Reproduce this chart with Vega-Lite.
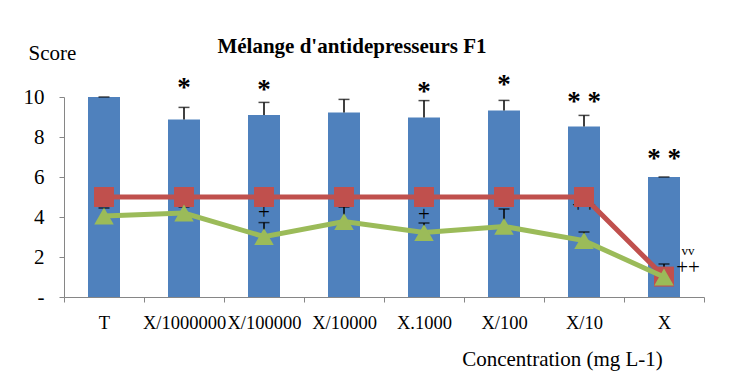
{
  "$schema": "https://vega.github.io/schema/vega-lite/v6.json",
  "width": 640,
  "height": 200,
  "autosize": {"type": "none"},
  "padding": {"left": 64, "top": 97, "right": 28, "bottom": 79},
  "background": "white",
  "config": {
    "view": {"stroke": null},
    "font": "Liberation Serif",
    "text": {"font": "Liberation Serif"},
    "axisX": {
      "labelAngle": 0,
      "labelFont": "Liberation Serif",
      "labelFontSize": 18.5,
      "labelColor": "black",
      "labelPadding": 11,
      "labelOverlap": false,
      "tickBand": "extent",
      "tickSize": 5,
      "tickColor": "#868686",
      "domainColor": "#868686",
      "titleFont": "Liberation Serif",
      "titleFontSize": 21,
      "titleFontWeight": "normal",
      "titleColor": "black",
      "titleAlign": "center",
      "titleBaseline": "middle",
      "titleX": 498,
      "titleY": 62
    },
    "axisY": {
      "labelOverlap": false,
      "grid": false,
      "labelFont": "Liberation Serif",
      "labelFontSize": 21,
      "labelColor": "black",
      "labelPadding": 15,
      "tickSize": 5,
      "tickColor": "#868686",
      "domainColor": "#868686",
      "titleFont": "Liberation Serif",
      "titleFontSize": 21,
      "titleFontWeight": "normal",
      "titleColor": "black",
      "titleAngle": 0,
      "titleAlign": "center",
      "titleBaseline": "middle",
      "titleX": -12,
      "titleY": -44
    }
  },
  "title": {
    "text": "Mélange d'antidepresseurs F1",
    "font": "Liberation Serif",
    "fontSize": 21,
    "fontWeight": "bold",
    "color": "black",
    "anchor": "middle",
    "dx": -32,
    "offset": -15
  },
  "datasets": {
    "main": [
      {"conc": "T", "score": 10.0, "scoreHigh": 10.0, "red": 5, "green": 4.05, "greenHigh": 4.45},
      {"conc": "X/1000000", "score": 8.88, "scoreHigh": 9.48, "red": 5, "green": 4.2, "greenHigh": 4.5},
      {"conc": "X/100000", "score": 9.1, "scoreHigh": 9.73, "red": 5, "green": 3.02, "greenHigh": 3.72},
      {"conc": "X/10000", "score": 9.22, "scoreHigh": 9.88, "red": 5, "green": 3.77, "greenHigh": 4.5},
      {"conc": "X.1000", "score": 8.98, "scoreHigh": 9.82, "red": 5, "green": 3.22, "greenHigh": 3.7},
      {"conc": "X/100", "score": 9.33, "scoreHigh": 9.83, "red": 5, "green": 3.53, "greenHigh": 4.4},
      {"conc": "X/10", "score": 8.53, "scoreHigh": 9.08, "red": 5, "green": 2.82, "greenHigh": 3.25},
      {"conc": "X", "score": 6.0, "scoreHigh": 6.0, "red": 1.02, "green": 1.0, "greenHigh": 1.65}
    ],
    "stars": [
      {"conc": "X/1000000", "y": 10.45, "label": "*"},
      {"conc": "X/100000", "y": 10.35, "label": "*"},
      {"conc": "X.1000", "y": 10.25, "label": "*"},
      {"conc": "X/100", "y": 10.6, "label": "*"},
      {"conc": "X/10", "y": 9.75, "label": "* *"},
      {"conc": "X", "y": 6.9, "label": "* *"}
    ],
    "plus": [
      {"conc": "X/100000", "y": 4.2, "label": "+"},
      {"conc": "X.1000", "y": 4.1, "label": "+"},
      {"conc": "X/10", "y": 4.55, "label": "++"}
    ],
    "side": [
      {"conc": "X", "y": 2.3, "label": "vv", "size": "small"},
      {"conc": "X", "y": 1.45, "label": "++", "size": "big"}
    ]
  },
  "layer": [
    {
      "data": {"name": "main"},
      "mark": {"type": "bar", "color": "#4F81BD", "width": {"band": 0.4}},
      "encoding": {
        "x": {"field": "conc", "type": "nominal", "sort": null, "scale": {"paddingInner": 0, "paddingOuter": 0}, "axis": {"title": "Concentration (mg L-1)"}},
        "y": {"field": "score", "type": "quantitative", "scale": {"domain": [0, 10], "nice": false}, "axis": {"title": "Score", "values": [0, 2, 4, 6, 8, 10], "labelExpr": "datum.value == 0 ? '-' : datum.label"}}
      }
    },
    {
      "data": {"name": "main"},
      "mark": {"type": "rule", "color": "black", "strokeWidth": 1.5},
      "encoding": {
        "x": {"field": "conc", "type": "nominal", "sort": null, "axis": {"title": "Concentration (mg L-1)"}},
        "y": {"field": "score", "type": "quantitative", "axis": {"title": "Score", "values": [0, 2, 4, 6, 8, 10], "labelExpr": "datum.value == 0 ? '-' : datum.label"}},
        "y2": {"field": "scoreHigh"}
      }
    },
    {
      "data": {"name": "main"},
      "mark": {"type": "tick", "color": "black", "size": 11, "thickness": 1.5},
      "encoding": {
        "x": {"field": "conc", "type": "nominal", "sort": null, "axis": {"title": "Concentration (mg L-1)"}},
        "y": {"field": "scoreHigh", "type": "quantitative", "axis": {"title": "Score", "values": [0, 2, 4, 6, 8, 10], "labelExpr": "datum.value == 0 ? '-' : datum.label"}}
      }
    },
    {
      "data": {"name": "main"},
      "mark": {"type": "rule", "color": "black", "strokeWidth": 1.5},
      "encoding": {
        "x": {"field": "conc", "type": "nominal", "sort": null, "axis": {"title": "Concentration (mg L-1)"}},
        "y": {"field": "green", "type": "quantitative", "axis": {"title": "Score", "values": [0, 2, 4, 6, 8, 10], "labelExpr": "datum.value == 0 ? '-' : datum.label"}},
        "y2": {"field": "greenHigh"}
      }
    },
    {
      "data": {"name": "main"},
      "mark": {"type": "tick", "color": "black", "size": 11, "thickness": 1.5},
      "encoding": {
        "x": {"field": "conc", "type": "nominal", "sort": null, "axis": {"title": "Concentration (mg L-1)"}},
        "y": {"field": "greenHigh", "type": "quantitative", "axis": {"title": "Score", "values": [0, 2, 4, 6, 8, 10], "labelExpr": "datum.value == 0 ? '-' : datum.label"}}
      }
    },
    {
      "data": {"name": "stars"},
      "mark": {"type": "text", "font": "Liberation Serif", "fontSize": 27, "fontWeight": "bold", "color": "black", "baseline": "middle"},
      "encoding": {
        "x": {"field": "conc", "type": "nominal", "sort": null, "axis": {"title": "Concentration (mg L-1)"}},
        "y": {"field": "y", "type": "quantitative", "axis": {"title": "Score", "values": [0, 2, 4, 6, 8, 10], "labelExpr": "datum.value == 0 ? '-' : datum.label"}},
        "text": {"field": "label"}
      }
    },
    {
      "data": {"name": "plus"},
      "mark": {"type": "text", "font": "Liberation Serif", "fontSize": 21, "color": "black", "baseline": "middle"},
      "encoding": {
        "x": {"field": "conc", "type": "nominal", "sort": null, "axis": {"title": "Concentration (mg L-1)"}},
        "y": {"field": "y", "type": "quantitative", "axis": {"title": "Score", "values": [0, 2, 4, 6, 8, 10], "labelExpr": "datum.value == 0 ? '-' : datum.label"}},
        "text": {"field": "label"}
      }
    },
    {
      "data": {"name": "side"},
      "transform": [{"filter": "datum.size == 'big'"}],
      "mark": {"type": "text", "font": "Liberation Serif", "fontSize": 21, "color": "black", "baseline": "middle", "dx": 24},
      "encoding": {
        "x": {"field": "conc", "type": "nominal", "sort": null, "axis": {"title": "Concentration (mg L-1)"}},
        "y": {"field": "y", "type": "quantitative", "axis": {"title": "Score", "values": [0, 2, 4, 6, 8, 10], "labelExpr": "datum.value == 0 ? '-' : datum.label"}},
        "text": {"field": "label"}
      }
    },
    {
      "data": {"name": "side"},
      "transform": [{"filter": "datum.size == 'small'"}],
      "mark": {"type": "text", "font": "Liberation Serif", "fontSize": 13, "color": "black", "baseline": "middle", "dx": 24},
      "encoding": {
        "x": {"field": "conc", "type": "nominal", "sort": null, "axis": {"title": "Concentration (mg L-1)"}},
        "y": {"field": "y", "type": "quantitative", "axis": {"title": "Score", "values": [0, 2, 4, 6, 8, 10], "labelExpr": "datum.value == 0 ? '-' : datum.label"}},
        "text": {"field": "label"}
      }
    },
    {
      "data": {"name": "main"},
      "mark": {"type": "line", "color": "#C0504D", "strokeWidth": 5, "point": {"shape": "square", "size": 400, "color": "#C0504D", "filled": true, "opacity": 1}},
      "encoding": {
        "x": {"field": "conc", "type": "nominal", "sort": null, "axis": {"title": "Concentration (mg L-1)"}},
        "y": {"field": "red", "type": "quantitative", "axis": {"title": "Score", "values": [0, 2, 4, 6, 8, 10], "labelExpr": "datum.value == 0 ? '-' : datum.label"}}
      }
    },
    {
      "data": {"name": "main"},
      "mark": {"type": "line", "color": "#9BBB59", "strokeWidth": 5, "point": {"shape": "triangle-up", "size": 380, "color": "#9BBB59", "filled": true, "opacity": 1}},
      "encoding": {
        "x": {"field": "conc", "type": "nominal", "sort": null, "axis": {"title": "Concentration (mg L-1)"}},
        "y": {"field": "green", "type": "quantitative", "axis": {"title": "Score", "values": [0, 2, 4, 6, 8, 10], "labelExpr": "datum.value == 0 ? '-' : datum.label"}}
      }
    }
  ]
}
